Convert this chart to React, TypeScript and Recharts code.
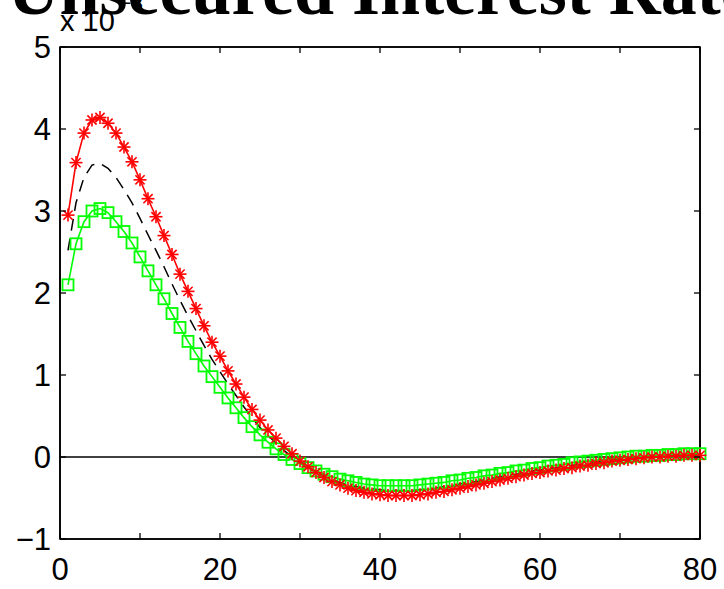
import React from "react";
import {
  LineChart,
  Line,
  XAxis,
  YAxis,
  ReferenceLine,
  ReferenceArea,
} from "recharts";

// values are shown in units of 1e-3 (axis says x 10^-3)
const steps = [
  1, 2, 3, 4, 5, 6, 7, 8, 9, 10, 11, 12, 13, 14, 15, 16, 17, 18, 19, 20,
  21, 22, 23, 24, 25, 26, 27, 28, 29, 30, 31, 32, 33, 34, 35, 36, 37, 38, 39, 40,
  41, 42, 43, 44, 45, 46, 47, 48, 49, 50, 51, 52, 53, 54, 55, 56, 57, 58, 59, 60,
  61, 62, 63, 64, 65, 66, 67, 68, 69, 70, 71, 72, 73, 74, 75, 76, 77, 78, 79, 80,
];

const upper = [
  2.95, 3.59, 3.95, 4.11, 4.14, 4.07, 3.95, 3.78, 3.6, 3.38,
  3.15, 2.93, 2.7, 2.47, 2.23, 2.02, 1.81, 1.6, 1.4, 1.23,
  1.05, 0.89, 0.73, 0.58, 0.45, 0.33, 0.23, 0.13, 0.04, -0.05,
  -0.12, -0.19, -0.25, -0.3, -0.34, -0.38, -0.41, -0.43, -0.45, -0.46,
  -0.47, -0.47, -0.47, -0.47, -0.46, -0.45, -0.43, -0.42, -0.4, -0.38,
  -0.36, -0.34, -0.32, -0.3, -0.28, -0.26, -0.24, -0.22, -0.2, -0.19,
  -0.17, -0.16, -0.14, -0.13, -0.11, -0.1, -0.08, -0.07, -0.05, -0.04,
  -0.03, -0.02, -0.01, 0.0, 0.0, 0.01, 0.01, 0.02, 0.02, 0.02,
];

const median = [
  2.52, 3.1, 3.41, 3.56, 3.58, 3.52, 3.41, 3.26, 3.1, 2.91,
  2.71, 2.52, 2.32, 2.11, 1.91, 1.72, 1.54, 1.36, 1.19, 1.04,
  0.89, 0.75, 0.61, 0.48, 0.36, 0.26, 0.17, 0.08, 0.0, -0.07,
  -0.13, -0.18, -0.23, -0.27, -0.31, -0.34, -0.36, -0.38, -0.39, -0.4,
  -0.41, -0.41, -0.41, -0.41, -0.4, -0.39, -0.38, -0.36, -0.35, -0.33,
  -0.31, -0.3, -0.28, -0.26, -0.24, -0.22, -0.21, -0.19, -0.17, -0.16,
  -0.14, -0.13, -0.11, -0.1, -0.09, -0.07, -0.06, -0.05, -0.04, -0.03,
  -0.02, -0.01, 0.0, 0.01, 0.01, 0.02, 0.02, 0.03, 0.03, 0.03,
];

const lower = [
  2.1, 2.6, 2.87, 3.0, 3.03, 2.98, 2.87, 2.75, 2.61, 2.44,
  2.27, 2.1, 1.93, 1.75, 1.58, 1.41, 1.26, 1.11, 0.98, 0.85,
  0.72, 0.6, 0.48, 0.37, 0.27, 0.18, 0.1, 0.03, -0.03, -0.08,
  -0.13, -0.17, -0.21, -0.24, -0.27, -0.29, -0.31, -0.33, -0.34, -0.35,
  -0.35, -0.35, -0.35, -0.35, -0.34, -0.33, -0.32, -0.31, -0.29, -0.28,
  -0.26, -0.25, -0.23, -0.22, -0.2, -0.19, -0.17, -0.16, -0.14, -0.13,
  -0.11, -0.1, -0.09, -0.07, -0.06, -0.05, -0.04, -0.03, -0.02, -0.01,
  0.0, 0.01, 0.01, 0.02, 0.02, 0.03, 0.03, 0.04, 0.04, 0.04,
];

const xTicks = [0, 10, 20, 30, 40, 50, 60, 70, 80];
const xLabels = [0, 20, 40, 60, 80];
const yTicks = [-1, 0, 1, 2, 3, 4, 5];

const data = steps.map((s, i) => ({
  step: s,
  upper: upper[i],
  median: median[i],
  lower: lower[i],
}));

const FONT = "'Liberation Sans', Arial, Helvetica, sans-serif";
const TICK = 6;

const BottomTick = ({ x, y, payload }: any) => (
  <g>
    <line x1={x} x2={x} y1={y} y2={y - TICK} stroke="#000" strokeWidth={1.3} />
    {xLabels.includes(payload.value) && (
      <text x={x} y={y + 41} textAnchor="middle" fontSize={31} fontFamily={FONT} fill="#000">
        {payload.value}
      </text>
    )}
  </g>
);

const TopTick = ({ x, y }: any) => (
  <line x1={x} x2={x} y1={y} y2={y + TICK} stroke="#000" strokeWidth={1.3} />
);

const LeftTick = ({ x, y, payload }: any) => (
  <g>
    <line x1={x} x2={x + TICK} y1={y} y2={y} stroke="#000" strokeWidth={1.3} />
    <text x={x - 9} y={y + 11} textAnchor="end" fontSize={31} fontFamily={FONT} fill="#000">
      {payload.value < 0 ? "\u2212" + Math.abs(payload.value) : payload.value}
    </text>
  </g>
);

const RightTick = ({ x, y }: any) => (
  <line x1={x} x2={x - TICK} y1={y} y2={y} stroke="#000" strokeWidth={1.3} />
);

const Star = (props: any) => {
  const { cx, cy, index } = props;
  const r = 6.5;
  const d = 4.6;
  return (
    <g key={"s" + index} stroke="#ff0000" strokeWidth={1.6}>
      <line x1={cx - r} x2={cx + r} y1={cy} y2={cy} />
      <line x1={cx} x2={cx} y1={cy - r} y2={cy + r} />
      <line x1={cx - d} x2={cx + d} y1={cy - d} y2={cy + d} />
      <line x1={cx - d} x2={cx + d} y1={cy + d} y2={cy - d} />
    </g>
  );
};

const Square = (props: any) => {
  const { cx, cy, index } = props;
  const h = 5.5;
  return (
    <rect
      key={"q" + index}
      x={cx - h}
      y={cy - h}
      width={h * 2}
      height={h * 2}
      fill="none"
      stroke="#00ff00"
      strokeWidth={1.8}
    />
  );
};

export default function App() {
  return (
    <div style={{ position: "absolute", left: 0, top: 0, width: 724, height: 589, background: "#fff" }}>
      <LineChart
        width={724}
        height={589}
        data={data}
        margin={{ top: 46, right: 23, bottom: 0, left: 0 }}
      >
        <XAxis
          xAxisId="b"
          dataKey="step"
          type="number"
          domain={[0, 80]}
          ticks={xTicks}
          interval={0}
          tick={<BottomTick />}
          tickLine={false}
          tickSize={0}
          tickMargin={0}
          height={50}
          axisLine={{ stroke: "#000", strokeWidth: 1.6 }}
        />
        <XAxis
          xAxisId="t"
          orientation="top"
          dataKey="step"
          type="number"
          domain={[0, 80]}
          allowDataOverflow
          ticks={xTicks}
          interval={0}
          tick={<TopTick />}
          tickLine={false}
          tickSize={0}
          tickMargin={0}
          height={1}
          axisLine={{ stroke: "#000", strokeWidth: 1.6 }}
        />
        <YAxis
          yAxisId="l"
          type="number"
          domain={[-1, 5]}
          ticks={yTicks}
          interval={0}
          tick={<LeftTick />}
          tickLine={false}
          tickSize={0}
          tickMargin={0}
          width={60}
          axisLine={{ stroke: "#000", strokeWidth: 1.6 }}
        />
        <YAxis
          yAxisId="r"
          orientation="right"
          type="number"
          domain={[-1, 5]}
          allowDataOverflow
          ticks={yTicks}
          interval={0}
          tick={<RightTick />}
          tickLine={false}
          tickSize={0}
          tickMargin={0}
          width={1}
          axisLine={{ stroke: "#000", strokeWidth: 1.6 }}
        />
        <ReferenceArea
          xAxisId="b"
          yAxisId="l"
          x1={0}
          x2={80}
          y1={-1}
          y2={5}
          fill="none"
          stroke="#000"
          strokeWidth={1.6}
          ifOverflow="extendDomain"
        />
        <ReferenceLine xAxisId="b" yAxisId="l" y={0} stroke="#000" strokeWidth={1.4} />
        <Line
          xAxisId="b"
          yAxisId="l"
          type="linear"
          dataKey="median"
          stroke="#000"
          strokeWidth={1.5}
          strokeDasharray="12 8"
          dot={false}
          isAnimationActive={false}
        />
        <Line
          xAxisId="b"
          yAxisId="l"
          type="linear"
          dataKey="lower"
          stroke="#00ff00"
          strokeWidth={1.6}
          dot={Square}
          isAnimationActive={false}
        />
        <Line
          xAxisId="b"
          yAxisId="l"
          type="linear"
          dataKey="upper"
          stroke="#ff0000"
          strokeWidth={1.6}
          dot={Star}
          isAnimationActive={false}
        />
      </LineChart>
      <svg
        width={724}
        height={589}
        style={{ position: "absolute", left: 0, top: 0, pointerEvents: "none" }}
      >
        <text
          x={380}
          y={14}
          textAnchor="middle"
          fontFamily="'Liberation Serif', 'Times New Roman', serif"
          fontWeight="bold"
          fontSize={72}
          fill="#000"
        >
          Unsecured Interest Rate
        </text>
        <text x={60} y={31} fontFamily={FONT} fontSize={29} fill="#000">
          x 10
        </text>
        <text x={119} y={10} fontFamily={FONT} fontSize={21} fill="#000">
          {"\u22123"}
        </text>
      </svg>
    </div>
  );
}
